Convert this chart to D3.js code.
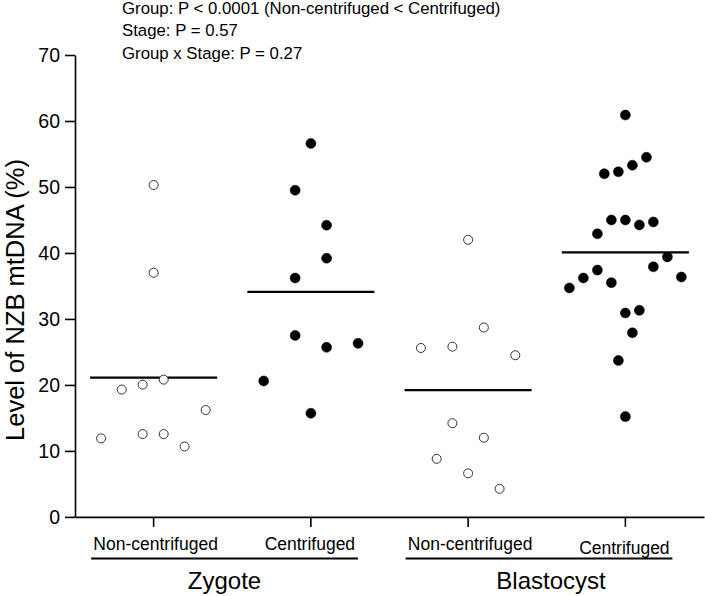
<!DOCTYPE html>
<html>
<head>
<meta charset="utf-8">
<script src="https://cdn.jsdelivr.net/npm/d3@7"></script>
<style>
  html, body { margin: 0; padding: 0; background: #fff; }
  svg { display: block; font-family: "Liberation Sans", Arial, sans-serif; }
</style>
</head>
<body>
<svg id="chart" width="705" height="596"></svg>
<script>
// ---- data ----
const groups = ["Zygote NC", "Zygote C", "Blastocyst NC", "Blastocyst C"];
const groupLabels = ["Non-centrifuged", "Centrifuged", "Non-centrifuged", "Centrifuged"];
const stages = ["Zygote", "Blastocyst"];
const filled = [false, true, false, true];

const zygoteNC = [50.3, 37.0, 20.8, 20.05, 19.3, 16.2, 11.9, 12.55, 12.55, 10.67];
const zygoteNCJitter = [0, 0, 0.064, -0.07, -0.203, 0.331, -0.334, -0.07, 0.064, 0.197];
const zygoteC = [56.6, 49.5, 44.2, 39.2, 36.2, 27.5, 26.3, 25.7, 20.6, 15.7];
const zygoteCJitter = [0, -0.1, 0.1, 0.1, -0.1, -0.1, 0.3, 0.1, -0.3, 0];
const blastNC = [42.0, 28.7, 25.8, 25.6, 24.5, 14.2, 12.0, 8.8, 6.6, 4.25];
const blastNCJitter = [0, 0.1, -0.1, -0.3, 0.3, -0.1, 0.1, -0.2, 0, 0.2];
const blastC = [60.9, 54.5, 53.3, 52.3, 52.0, 45.0, 45.0, 44.7, 44.25, 42.9, 39.4,
                37.9, 37.4, 36.35, 36.2, 35.5, 34.7, 31.3, 30.9, 27.9, 23.7, 15.2];
const blastCJitter = [0, 0.134, 0.0445, -0.0445, -0.134, -0.089, 0, 0.178, 0.089, -0.178, 0.267,
                      0.178, -0.178, 0.356, -0.267, -0.089, -0.356, 0.089, 0, 0.0445, -0.0445, 0];
const means = [21.1, 34.1, 19.2, 40.1];
const yTicks = [0, 10, 20, 30, 40, 50, 60, 70];
const annotations = [
  "Group: P < 0.0001 (Non-centrifuged < Centrifuged)",
  "Stage: P = 0.57",
  "Group x Stage: P = 0.27"
];
const yTitle = "Level of NZB mtDNA (%)";

const values = [zygoteNC, zygoteC, blastNC, blastC];
const jitters = [zygoteNCJitter, zygoteCJitter, blastNCJitter, blastCJitter];

// ---- layout ----
const svg = d3.select("#chart");
const x = d3.scaleBand().domain(groups).range([75, 704]).padding(0);
const cx = g => x(g) + x.bandwidth() / 2;
const jit = d3.scaleLinear().domain([-0.5, 0.5]).range([-x.step() / 2, x.step() / 2]);
const y = d3.scaleLinear().domain([0, 70]).range([516.9, 55]);

// y axis
const yAxis = svg.append("g")
  .attr("transform", "translate(75,0)")
  .call(d3.axisLeft(y).tickValues(yTicks).tickSize(10).tickPadding(5).tickSizeOuter(0));
yAxis.select(".domain").attr("stroke", "#000").attr("stroke-width", 1.6);
yAxis.selectAll(".tick line").attr("stroke", "#000").attr("stroke-width", 1.6);
yAxis.selectAll(".tick text").attr("font-size", 19.5).attr("fill", "#000")
  .attr("font-family", "Liberation Sans, Arial, sans-serif");

// x axis
const xAxis = svg.append("g")
  .attr("transform", `translate(0,${y(0)})`)
  .call(d3.axisBottom(x).tickSize(10).tickSizeOuter(0).tickFormat(""));
xAxis.select(".domain").attr("stroke", "#000").attr("stroke-width", 1.6);
xAxis.selectAll(".tick line").attr("stroke", "#000").attr("stroke-width", 1.6);

// group labels
svg.append("g").selectAll("text")
  .data(groups)
  .join("text")
  .attr("x", (d, i) => cx(d) + (i % 2 === 0 ? 2 : -1))
  .attr("y", (d, i) => i === 3 ? 554 : 549.5)
  .attr("text-anchor", "middle")
  .attr("font-size", 17.5)
  .attr("fill", "#000")
  .text((d, i) => groupLabels[i]);

// stage underlines + labels
stages.forEach((s, i) => {
  const g1 = groups[i * 2], g2 = groups[i * 2 + 1];
  const x1 = cx(g1) - 62.5, x2 = cx(g2) + 47;
  svg.append("line")
    .attr("x1", x1).attr("x2", x2)
    .attr("y1", 558.5).attr("y2", 558.5)
    .attr("stroke", "#000").attr("stroke-width", 2);
  svg.append("text")
    .attr("x", i === 0 ? (x1 + x2) / 2 : (x1 + x2) / 2 + 12)
    .attr("y", 588.5)
    .attr("text-anchor", "middle")
    .attr("font-size", 24)
    .attr("fill", "#000")
    .text(s);
});

// y title
svg.append("text")
  .attr("transform", `translate(24,300) rotate(-90)`)
  .attr("text-anchor", "middle")
  .attr("font-size", 25.5)
  .attr("fill", "#000")
  .text(yTitle);

// annotations
svg.append("g").selectAll("text")
  .data(annotations)
  .join("text")
  .attr("x", 122)
  .attr("y", (d, i) => 13.5 + i * 22.5)
  .attr("font-size", 16.8)
  .attr("fill", "#000")
  .text(d => d);

// means
svg.append("g").selectAll("line")
  .data(groups)
  .join("line")
  .attr("x1", d => cx(d) + jit(-0.404))
  .attr("x2", d => cx(d) + jit(0.404))
  .attr("y1", (d, i) => y(means[i]))
  .attr("y2", (d, i) => y(means[i]))
  .attr("stroke", "#000")
  .attr("stroke-width", 2.2);

// points
groups.forEach((g, gi) => {
  const pts = values[gi].map((v, k) => ({ v, j: jitters[gi][k] }));
  svg.append("g").selectAll("circle")
    .data(pts)
    .join("circle")
    .attr("cx", d => cx(g) + jit(d.j))
    .attr("cy", d => y(d.v))
    .attr("r", filled[gi] ? 5 : 4.5)
    .attr("fill", filled[gi] ? "#000" : "#fff")
    .attr("stroke", filled[gi] ? "#000" : "#333")
    .attr("stroke-width", filled[gi] ? 0.5 : 1);
});
</script>
</body>
</html>
